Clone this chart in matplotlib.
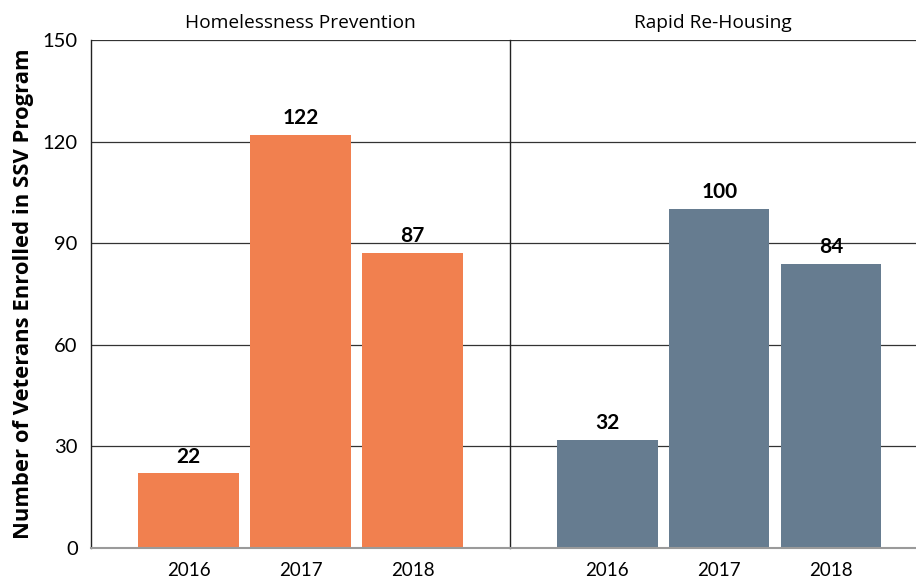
import matplotlib
matplotlib.use("Agg")
import matplotlib.pyplot as plt

# Enrollment data per program and year
years = ["2016", "2017", "2018"]
programs = ["Homelessness Prevention", "Rapid Re-Housing"]
prevention = [22, 122, 87]
rapid_rehousing = [32, 100, 84]
colors = ["#F1804F", "#667C90"]
y_ticks = [0, 30, 60, 90, 120, 150]

plt.rcParams["font.family"] = ["Lato", "DejaVu Sans"]
wide = ["Open Sans", "DejaVu Sans"]

fig = plt.figure(figsize=(9.16, 5.85), dpi=100)
W, H = 916, 585
bottom = (H - 548) / H
top = (H - 40) / H
ax_l = fig.add_axes([91 / W, bottom, (510 - 91) / W, top - bottom])
ax_r = fig.add_axes([510 / W, bottom, (916 - 510) / W, top - bottom], sharey=ax_l)

xs = list(range(len(years)))
for ax, vals, color, title, xlim in [
    (ax_l, prevention, colors[0], programs[0], (-0.87, 2.87)),
    (ax_r, rapid_rehousing, colors[1], programs[1], (-0.87, 2.76)),
]:
    ax.set_axisbelow(True)
    ax.yaxis.grid(True, color="#333333", linewidth=0.9)
    bars = ax.bar(xs, vals, width=0.9, color=color, zorder=2)
    for b, v in zip(bars, vals):
        ax.annotate(str(v), (b.get_x() + b.get_width() / 2, v),
                    xytext=(0, 5), textcoords="offset points",
                    ha="center", va="bottom", fontsize=15, fontweight="bold",
                    color="black")
    ax.set_xlim(*xlim)
    ax.set_ylim(0, 150)
    ax.set_xticks(xs)
    ax.set_xticklabels(years, fontsize=13.5)
    ax.tick_params(axis="x", length=0, pad=10)
    ax.set_title(title, fontsize=13.8, pad=9, family=wide)
    for s in ["right", "top"]:
        ax.spines[s].set_visible(False)
    ax.spines["bottom"].set_color("#9a9a9a")
    ax.spines["bottom"].set_linewidth(1.5)
    ax.spines["left"].set_color("#222222")
    ax.spines["left"].set_linewidth(1.0)

ax_l.set_yticks(y_ticks)
ax_l.tick_params(axis="y", length=0, pad=9.5, labelsize=14.5)
ax_r.tick_params(axis="y", left=False, labelleft=False)
ax_l.set_ylabel("Number of Veterans Enrolled in SSV Program",
                fontsize=15.8, fontweight="bold", labelpad=6, family=wide)

fig.savefig("out.png", dpi=100)
